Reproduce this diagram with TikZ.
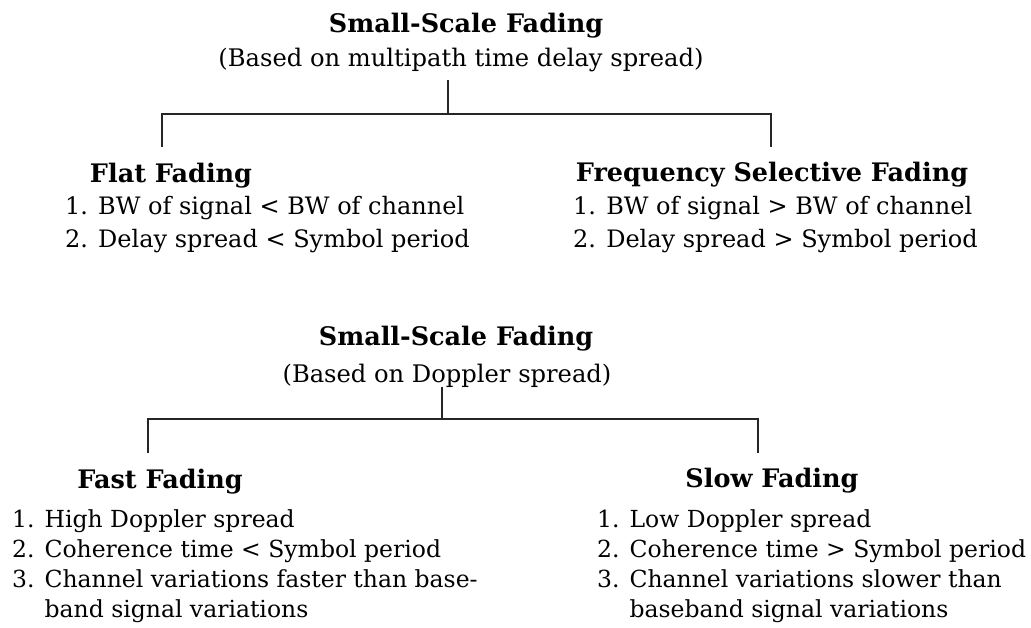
\documentclass[tikz,border=0pt]{standalone}
\usepackage{fontspec}
\setmainfont{DejaVu Serif}
\begin{document}
\begin{tikzpicture}[x=1pt,y=1pt,
  ttl/.style={font=\fontsize{25.5}{30}\selectfont\bfseries, inner sep=0pt, anchor=base},
  sub/.style={font=\fontsize{24.2}{30}\selectfont, inner sep=0pt, anchor=base},
  lsttop/.style={font=\fontsize{24}{33}\selectfont, inner sep=0pt, anchor=base west},
  lstbot/.style={font=\fontsize{23.5}{30}\selectfont, inner sep=0pt, anchor=base west},
  conn/.style={line width=1.3pt, black!85}]
\useasboundingbox (0,0) rectangle (1031,-628);
% ---------- top tree ----------
\node[ttl] (t1) at (466,-33) {Small-Scale Fading};
\node[sub] (t1s) at (461,-67) {(Based on multipath time delay spread)};
\coordinate (s1) at (448,-80);
\coordinate (j1) at (448,-114);
\coordinate (bl1) at (162,-114);
\coordinate (br1) at (771,-114);
\coordinate (dl1) at (162,-147);
\coordinate (dr1) at (771,-147);
\draw[conn] (s1) -- (j1);
\draw[conn] (dl1) -- (bl1) -- (br1) -- (dr1);
\node[ttl] (flat) at (171,-183) {Flat Fading};
\node[lsttop] (flatl) at (65,-215) {\begin{tabular}[t]{@{}l@{ }l@{}}
1. & BW of signal < BW of channel\\
2. & Delay spread < Symbol period
\end{tabular}};
\node[ttl] (fsel) at (772,-182) {Frequency Selective Fading};
\node[lsttop] (fsell) at (573,-215) {\begin{tabular}[t]{@{}l@{ }l@{}}
1. & BW of signal > BW of channel\\
2. & Delay spread > Symbol period
\end{tabular}};
% ---------- bottom tree ----------
\node[ttl] (t2) at (456,-345) {Small-Scale Fading};
\node[sub] (t2s) at (447,-382) {(Based on Doppler spread)};
\coordinate (s2) at (442,-387);
\coordinate (j2) at (442,-419);
\coordinate (bl2) at (148,-419);
\coordinate (br2) at (758,-419);
\coordinate (dl2) at (148,-453);
\coordinate (dr2) at (758,-453);
\draw[conn] (s2) -- (j2);
\draw[conn] (dl2) -- (bl2) -- (br2) -- (dr2);
\node[ttl] (fast) at (160,-488) {Fast Fading};
\node[lstbot] (fastl) at (12,-527) {\begin{tabular}[t]{@{}l@{ }l@{}}
1. & High Doppler spread\\
2. & Coherence time < Symbol period\\
3. & Channel variations faster than base-\\
   & band signal variations
\end{tabular}};
\node[ttl] (slow) at (772,-487) {Slow Fading};
\node[lstbot] (slowl) at (597,-527) {\begin{tabular}[t]{@{}l@{ }l@{}}
1. & Low Doppler spread\\
2. & Coherence time > Symbol period\\
3. & Channel variations slower than\\
   & baseband signal variations
\end{tabular}};
\end{tikzpicture}
\end{document}
